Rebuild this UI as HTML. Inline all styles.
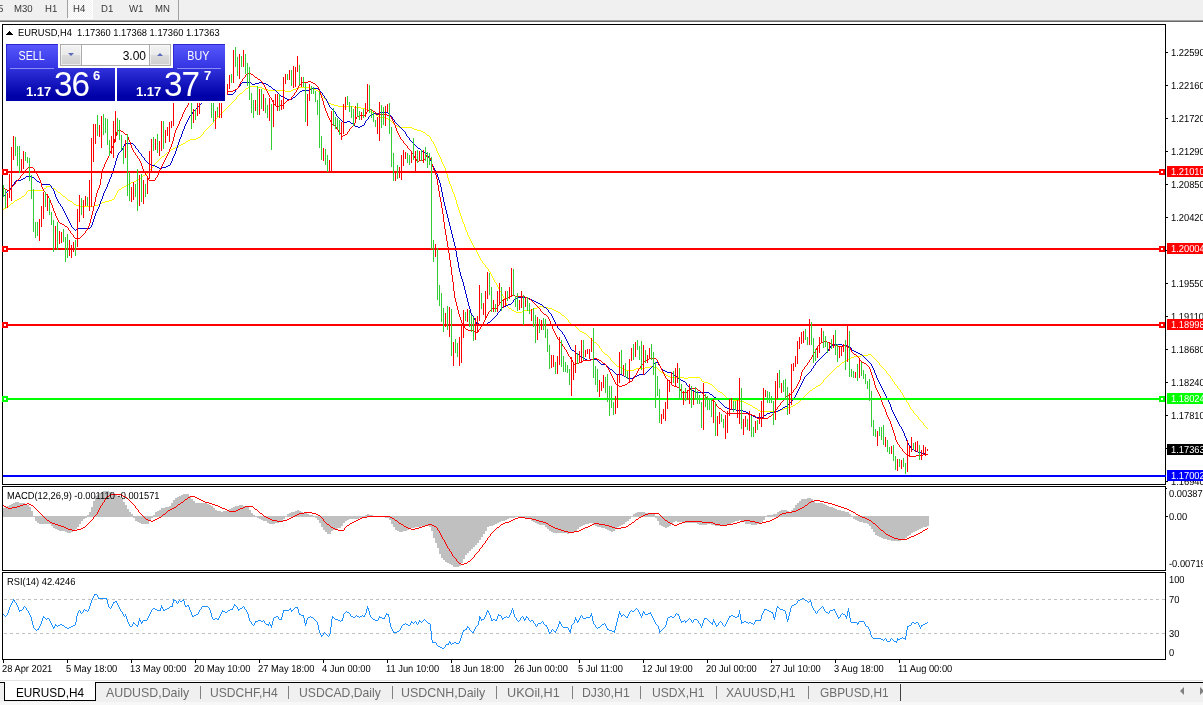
<!DOCTYPE html>
<html lang="en">
<head>
<meta charset="utf-8">
<title>EURUSD,H4</title>
<style>
html,body{margin:0;padding:0;background:#fff;overflow:hidden}
body{width:1203px;height:705px;position:relative;font-family:"Liberation Sans",Arial,sans-serif;}
#app{position:absolute;left:0;top:0;width:1203px;height:705px;overflow:hidden;background:#fff}
.toolbar{position:absolute;left:0;top:0;width:1203px;height:20px;background:#f0f0f0;border-bottom:1px solid #a0a0a0;font-size:10.2px;color:#383838;text-rendering:geometricPrecision}
.toolbar:after{content:"";position:absolute;left:0;top:21px;width:1203px;height:1px;background:#696969}
.toolbar span{position:absolute;top:4px;line-height:12px;white-space:nowrap;transform:scaleX(.94);transform-origin:0 0}
.toolbar .vs{position:absolute;top:0;width:1px;height:18px;background:#a0a0a0}
.toolbar .on{position:absolute;left:68px;top:0;width:24px;height:18px;background:#f0f0f0 conic-gradient(#fff 25%,transparent 0 50%,#fff 0 75%,transparent 0) 0 0/2px 2px;box-shadow:1px 0 0 #fff,0 1px 0 #fff,1px 1px 0 #fff}
.chart{position:absolute;left:0;top:0}
.panel{position:absolute;left:6px;top:44px;width:219px;height:57px;box-shadow:0 0 0 2px #fff;background:#fff;font-family:"Liberation Sans",Arial,sans-serif;color:#fff}
.btn{position:absolute;top:0;height:25px;width:52px;background:linear-gradient(#5858fc,#3232e2);text-align:center;font-size:12px;line-height:24px;box-shadow:inset 1px 1px 0 #2a2ad0}
.btn span{display:inline-block;transform:scaleX(.89)}
.btn u{position:absolute;left:4px;right:4px;bottom:0;height:1px;background:#8c8cf4}
.px{position:absolute;top:24px;height:33px;background:linear-gradient(#3232dc,#0000a8 85%);}
.px b{position:absolute;left:20px;top:16px;font-size:13px;line-height:15px}
.px em{position:absolute;left:47.5px;top:0px;font-style:normal;font-size:35px;line-height:32px;letter-spacing:-1px;transform:scaleX(.95);transform-origin:0 0}
.px sup{position:absolute;left:87px;top:0px;font-size:13px;font-weight:bold;line-height:15px}
.vol{position:absolute;left:54px;top:0;width:109px;height:20px;border:1px solid #ababab;background:#fff;color:#000;font-size:12px}
.vol i{position:absolute;top:0;width:20px;height:20px;background:linear-gradient(#f3f3f3,#eaeaea 48%,#dcdcdc 52%,#cfcfcf);border:0 solid #ababab;box-shadow:inset 0 0 0 1px rgba(255,255,255,.55)}
.vol i:after{content:"";position:absolute;left:7px;top:8px;border:3px solid transparent;}
.vol i.dn{left:0;border-right-width:1px} .vol i.dn:after{border-top:3px solid #5a6ab8;border-bottom:0}
.vol i.up{right:0;border-left-width:1px} .vol i.up:after{border-bottom:3px solid #5a6ab8;border-top:0}
.vol span{position:absolute;right:24px;top:4px;line-height:15px}
.tabs{position:absolute;left:0;top:680px;width:1203px;height:25px;font-size:12px}
.tabs .bg{position:absolute;left:0;top:3px;width:1203px;height:19px;background:#f0f0f0}
.tabs .l1{position:absolute;left:0;top:0;width:1203px;height:1px;background:#e3e3e3}
.tabs .l2{position:absolute;left:0;top:2px;width:1203px;height:1px;background:#000}
.tabs .bot{position:absolute;left:0;top:22px;width:1203px;height:3px;background:#f7f7f7}
.tabs .act{position:absolute;left:4px;top:2px;width:90px;height:18px;border:1px solid #000;border-top:0;background:#fff;color:#000}
.tabs .act span{position:absolute;left:11px;top:3px;line-height:15px;font-size:13px;transform:scaleX(.905);transform-origin:0 0;white-space:nowrap}
.tab{position:absolute;top:5px;line-height:15px;color:#6d6d6d;white-space:nowrap;font-size:13px;transform:scaleX(.91);transform-origin:0 0}
.sep{position:absolute;top:6px;width:1px;height:13px;background:#808080}
.arr{position:absolute;top:7px;width:0;height:0;border:4px solid transparent}
</style>
</head>
<body>
<div id="app">
<div class="toolbar"><span style="left:-2px">5</span><span style="left:14.3px">M30</span><span style="left:45.3px">H1</span><i class="on"></i><i class="vs" style="left:67px"></i><span style="left:72.5px">H4</span><span style="left:101px">D1</span><span style="left:129px">W1</span><span style="left:155px">MN</span><i class="vs" style="left:178px;height:20px"></i></div>
<svg class="chart" width="1203" height="705" viewBox="0 0 1203 705"><g shape-rendering="crispEdges"><path d="M3 209.5h1M4 208.5h2M6 207.5h2M8 206.5h1M9 205.5h1M10 204.5h1M11 203.5h2M13 202.5h1M14 201.5h1M15 200.5h2M17 199.5h2M19 198.5h2M21 197.5h1M22 196.5h2M24 195.5h1M25 194.5h1M26.5 192v2M27 191.5h1M28 190.5h15M43 189.5h1M44 188.5h2M46.5 186v2M47 186.5h4M51 187.5h1M52 188.5h3M55 189.5h1M56 190.5h1M57 191.5h1M58 192.5h2M60 193.5h1M61 194.5h1M62 195.5h1M63 196.5h2M65 197.5h1M66 198.5h1M67 199.5h1M68 200.5h2M70 201.5h2M72 202.5h1M73 203.5h1M74 204.5h2M76 205.5h3M79 206.5h15M94 205.5h4M98 204.5h2M100 203.5h2M102 202.5h3M105 201.5h4M109 200.5h3M112 199.5h2M114.5 197v2M115.5 195v2M116.5 193v2M117.5 191v2M118 190.5h1M119 189.5h2M121 188.5h1M122 187.5h2M124 186.5h2M126 185.5h1M127 184.5h2M129 183.5h2M131 182.5h3M134 181.5h2M136 180.5h2M138 179.5h1M139 178.5h2M141 177.5h1M142 176.5h1M143 175.5h2M145 174.5h2M147 173.5h1M148 172.5h1M149.5 170v2M150 169.5h1M151 168.5h1M152 167.5h1M153.5 165v2M154 164.5h1M155 163.5h1M156 162.5h1M157 161.5h1M158 160.5h1M159 159.5h1M160 158.5h1M161 157.5h1M162 156.5h2M164 155.5h1M165 154.5h1M166 153.5h1M167 152.5h2M169 151.5h1M170 150.5h1M171 149.5h2M173 148.5h2M175 147.5h2M177 146.5h2M179 145.5h2M181 144.5h2M183 143.5h2M185 142.5h1M186 141.5h2M188 140.5h2M190 139.5h6M196 138.5h2M198 137.5h2M200 136.5h1M201 135.5h1M202 134.5h1M203.5 132v2M204 131.5h1M205 130.5h1M206 129.5h1M207 128.5h1M208 127.5h1M209 126.5h1M210 125.5h1M211 124.5h1M212 123.5h1M213.5 121v2M214 120.5h1M215 119.5h1M216 118.5h1M217 117.5h1M218 116.5h1M219 115.5h1M220 114.5h1M221 113.5h1M222 112.5h1M223 111.5h1M224 110.5h1M225 109.5h1M226 108.5h1M227 107.5h1M228 106.5h1M229 105.5h1M230 104.5h1M231 103.5h1M232 102.5h1M233 101.5h1M234 100.5h1M235 99.5h1M236.5 97v2M237 96.5h1M238 95.5h1M239 94.5h1M240 93.5h2M242 92.5h1M243 91.5h1M244 90.5h1M245 89.5h1M246 88.5h2M248 87.5h1M249 86.5h8M257 87.5h5M262 88.5h2M264 89.5h4M268 90.5h17M285 91.5h6M291 90.5h2M293 89.5h3M296 88.5h3M299 87.5h11M310 88.5h3M313 89.5h3M316 90.5h2M318 91.5h2M320.5 92v2M321.5 94v2M322 96.5h1M323 97.5h1M324 98.5h1M325 99.5h1M326 100.5h1M327 101.5h1M328 102.5h1M329 103.5h2M331 104.5h3M334 105.5h4M338 106.5h16M354 107.5h7M361 108.5h5M366 109.5h2M368 110.5h2M370 111.5h2M372 112.5h1M373 113.5h2M375 114.5h1M376 115.5h2M378 116.5h2M380 117.5h6M386 118.5h2M388 119.5h2M390 120.5h1M391 121.5h1M392 122.5h1M393 123.5h1M394 124.5h1M395 125.5h2M397 126.5h2M399 127.5h13M412 128.5h2M414 129.5h3M417 130.5h4M421 131.5h2M423 132.5h2M425 133.5h1M426 134.5h1M427 135.5h2M429 136.5h1M430.5 137v2M431.5 139v2M432 141.5h1M433.5 142v2M434.5 144v2M435.5 146v2M436.5 148v3M437.5 151v2M438.5 153v2M439.5 155v2M440.5 157v2M441.5 159v3M442.5 162v2M443.5 164v2M444.5 166v2M445.5 168v3M446.5 171v3M447.5 174v4M448.5 178v3M449.5 181v3M450.5 184v2M451.5 186v3M452.5 189v3M453.5 192v2M454.5 194v3M455.5 197v3M456.5 200v4M457.5 204v3M458.5 207v3M459.5 210v3M460.5 213v3M461.5 216v3M462.5 219v3M463.5 222v2M464.5 224v3M465.5 227v3M466.5 230v2M467.5 232v3M468.5 235v2M469.5 237v2M470.5 239v2M471.5 241v2M472.5 243v2M473.5 245v2M474.5 247v2M475 249.5h1M476.5 250v2M477.5 252v2M478.5 254v2M479.5 256v2M480.5 258v2M481 260.5h1M482.5 261v2M483 263.5h1M484 264.5h1M485.5 265v2M486 267.5h1M487 268.5h1M488.5 269v2M489 271.5h1M490.5 272v2M491.5 274v2M492.5 276v2M493.5 278v2M494.5 280v2M495 282.5h1M496.5 283v2M497.5 285v2M498.5 287v2M499.5 289v2M500 291.5h1M501.5 292v2M502.5 294v2M503.5 296v2M504.5 298v2M505.5 300v3M506.5 303v2M507.5 305v2M508 307.5h1M509 308.5h2M511 309.5h1M512 310.5h2M514 311.5h2M516 312.5h6M522 311.5h2M524 310.5h8M532 309.5h2M534 308.5h3M537 307.5h2M539 306.5h4M543 307.5h5M548 308.5h4M552 309.5h2M554 310.5h2M556 311.5h2M558 312.5h2M560 313.5h1M561 314.5h1M562 315.5h2M564 316.5h1M565 317.5h1M566 318.5h1M567 319.5h1M568.5 320v2M569 322.5h1M570 323.5h1M571 324.5h2M573 325.5h2M575 326.5h1M576 327.5h1M577 328.5h1M578 329.5h1M579 330.5h1M580 331.5h2M582 332.5h2M584 333.5h2M586 334.5h1M587 335.5h1M588 336.5h1M589 337.5h1M590 338.5h1M591 339.5h1M592 340.5h1M593 341.5h1M594 342.5h2M596 343.5h1M597 344.5h1M598 345.5h1M599.5 346v2M600 348.5h1M601.5 349v2M602 351.5h1M603 352.5h1M604 353.5h1M605 354.5h2M607 355.5h1M608 356.5h1M609 357.5h1M610.5 358v2M611 360.5h1M612 361.5h1M613 362.5h1M614 363.5h1M615 364.5h1M616 365.5h1M617 366.5h2M619 367.5h2M621 368.5h3M624 369.5h2M626 370.5h8M634 369.5h2M636 368.5h9M645 367.5h5M650 366.5h4M654 367.5h3M657 368.5h1M658 369.5h1M659 370.5h1M660 371.5h1M661 372.5h2M663 373.5h2M665 374.5h1M666 375.5h2M668 376.5h2M670 377.5h14M684 378.5h4M688 377.5h12M700 378.5h1M701.5 379v2M702 381.5h2M704 382.5h4M708 383.5h2M710 384.5h2M712 385.5h1M713 386.5h1M714 387.5h1M715 388.5h1M716 389.5h1M717 390.5h1M718 391.5h2M720 392.5h2M722 393.5h1M723 394.5h1M724 395.5h1M725 396.5h1M726 397.5h1M727 398.5h2M729 399.5h4M733 400.5h6M739 401.5h5M744 402.5h2M746 403.5h2M748 404.5h2M750 405.5h2M752 406.5h1M753 407.5h2M755 408.5h2M757 409.5h1M758 410.5h2M760 411.5h19M779 410.5h2M781 409.5h3M784 408.5h4M788 407.5h3M791 406.5h2M793 405.5h2M795 404.5h1M796 403.5h2M798 402.5h1M799 401.5h1M800 400.5h1M801 399.5h1M802 398.5h1M803 397.5h1M804 396.5h1M805 395.5h1M806 394.5h1M807 393.5h1M808 392.5h1M809 391.5h1M810 390.5h2M812 389.5h1M813 388.5h2M815 387.5h1M816 386.5h2M818 385.5h2M820 384.5h1M821 383.5h1M822 382.5h1M823.5 380v2M824 379.5h1M825 378.5h1M826 377.5h1M827 376.5h1M828 375.5h1M829 374.5h1M830 373.5h1M831 372.5h1M832 371.5h1M833 370.5h1M834 369.5h1M835 368.5h1M836 367.5h1M837 366.5h2M839 365.5h1M840 364.5h1M841 363.5h1M842 362.5h2M844 361.5h2M846 360.5h1M847 359.5h2M849 358.5h2M851 357.5h3M854 356.5h7M861 355.5h7M868 354.5h3M871 355.5h1M872 356.5h1M873 357.5h1M874 358.5h1M875 359.5h1M876 360.5h1M877 361.5h1M878 362.5h1M879.5 363v2M880 365.5h1M881 366.5h1M882 367.5h1M883 368.5h1M884 369.5h1M885 370.5h1M886.5 371v2M887 373.5h1M888 374.5h1M889 375.5h1M890.5 376v2M891 378.5h1M892.5 379v2M893 381.5h1M894.5 382v2M895 384.5h1M896 385.5h1M897.5 386v2M898 388.5h1M899 389.5h1M900.5 390v2M901 392.5h1M902.5 393v2M903.5 395v2M904 397.5h1M905.5 398v2M906.5 400v2M907 402.5h1M908.5 403v2M909.5 405v2M910.5 407v2M911 409.5h1M912 410.5h1M913.5 411v2M914 413.5h1M915 414.5h1M916 415.5h1M917 416.5h1M918.5 417v2M919 419.5h1M920 420.5h1M921 421.5h1M922 422.5h1M923.5 423v2M924 425.5h1M925 426.5h1M926 427.5h1M927 428.5h1" fill="none" stroke="#ffff00"/><path d="M3 196.5h1M4 195.5h1M5.5 193v2M6 192.5h1M7 191.5h1M8 190.5h1M9 189.5h1M10 188.5h1M11.5 186v2M12 185.5h1M13 184.5h1M14.5 182v2M15 181.5h1M16 180.5h5M21 179.5h2M23 178.5h2M25 177.5h1M26 176.5h6M32 177.5h2M34 178.5h1M35 179.5h1M36 180.5h1M37 181.5h2M39 182.5h2M41.5 183v2M42 184.5h8M50 185.5h1M51.5 186v2M52 188.5h1M53.5 189v2M54.5 191v3M55.5 194v3M56.5 197v2M57.5 199v2M58.5 201v2M59 203.5h1M60.5 204v2M61 206.5h1M62.5 207v2M63.5 209v2M64.5 211v2M65.5 213v2M66.5 215v2M67.5 217v2M68.5 219v2M69.5 221v2M70.5 223v2M71.5 225v2M72 227.5h1M73 228.5h1M74 229.5h1M75 230.5h1M76 229.5h2M78 228.5h12M90 227.5h1M91.5 225v2M92.5 222v3M93.5 219v3M94.5 216v3M95.5 213v3M96.5 211v2M97.5 209v2M98.5 207v2M99.5 204v3M100.5 201v3M101.5 199v2M102.5 196v3M103.5 193v3M104.5 191v2M105.5 189v2M106.5 187v2M107.5 184v3M108.5 182v2M109.5 179v3M110.5 177v2M111.5 174v3M112.5 171v3M113.5 168v3M114.5 165v3M115.5 161v4M116.5 158v3M117.5 155v3M118.5 153v2M119 152.5h1M120 151.5h1M121 150.5h1M122.5 148v2M123.5 146v2M124.5 144v2M125 143.5h8M133 144.5h1M134 145.5h1M135.5 146v2M136 148.5h1M137 149.5h1M138.5 150v2M139 152.5h1M140 153.5h1M141.5 154v2M142 156.5h1M143 157.5h1M144.5 158v2M145 160.5h1M146 161.5h1M147 162.5h1M148 163.5h1M149 164.5h3M152 165.5h3M155 166.5h2M157 167.5h2M159 168.5h3M162 167.5h4M166 166.5h2M168 165.5h2M170.5 163v2M171.5 161v2M172.5 158v3M173.5 156v2M174.5 154v2M175.5 151v3M176.5 148v3M177.5 145v3M178.5 142v3M179.5 139v3M180.5 137v2M181.5 134v3M182.5 131v3M183.5 129v2M184.5 126v3M185.5 124v2M186.5 122v2M187.5 120v2M188.5 118v2M189.5 116v2M190 115.5h1M191 114.5h1M192.5 112v2M193 111.5h1M194 110.5h1M195 109.5h1M196 108.5h1M197 107.5h1M198 106.5h1M199 105.5h1M200 104.5h1M201 103.5h1M202 102.5h1M203 101.5h1M204 100.5h1M227 94.5h6M233 93.5h1M234 92.5h1M235.5 90v2M236 89.5h1M237 88.5h1M238 87.5h1M239 86.5h1M240.5 84v2M241 83.5h1M242 82.5h9M251 83.5h1M252 84.5h3M255 83.5h4M259 82.5h4M263 83.5h3M266 84.5h2M268 85.5h1M269 86.5h2M271 87.5h1M272 88.5h1M273 89.5h2M275 90.5h1M276 91.5h1M277 92.5h1M278 93.5h1M279 94.5h1M280 95.5h1M281 96.5h2M283 97.5h2M285 98.5h2M287 99.5h5M292 98.5h1M293 97.5h2M295 96.5h1M296 95.5h1M297 94.5h1M298 93.5h1M299 92.5h1M300 91.5h2M302 90.5h7M309 89.5h2M311 88.5h7M318 89.5h1M319 90.5h1M320 91.5h1M321 92.5h1M322.5 93v2M323 95.5h1M324.5 96v2M325 98.5h1M326.5 99v2M327.5 101v2M328.5 103v2M329.5 105v2M330 107.5h1M331 108.5h1M332 109.5h1M333 110.5h1M334 111.5h1M335.5 112v2M336.5 114v2M337 116.5h1M338 117.5h1M339 118.5h1M340 119.5h1M341 120.5h1M342 121.5h2M344 122.5h3M347 121.5h3M350 122.5h1M351 123.5h2M353 124.5h1M354 125.5h1M355 126.5h3M358 127.5h2M360 126.5h2M362 125.5h2M364.5 123v2M365.5 121v2M366 120.5h1M367 119.5h1M368.5 117v2M369 116.5h1M370 115.5h1M371 114.5h2M373 113.5h3M376 114.5h2M378 113.5h2M380 112.5h8M388 113.5h1M389 114.5h1M390 115.5h1M391 116.5h1M392.5 117v2M393 119.5h1M394.5 120v2M395 122.5h1M396 123.5h1M397 124.5h1M398 125.5h1M399 126.5h1M400 127.5h1M401 128.5h1M402 129.5h1M403 130.5h1M404 131.5h1M405.5 132v2M406.5 134v2M407 136.5h1M408 137.5h1M409.5 138v2M410 140.5h1M411 141.5h1M412 142.5h1M413 143.5h1M414 144.5h1M415 145.5h1M416 146.5h1M417 147.5h1M418 148.5h2M420 149.5h1M421 150.5h1M422 151.5h2M424 152.5h2M426 153.5h1M427.5 154v2M428 156.5h1M429.5 157v2M430.5 159v2M431.5 161v3M432.5 164v2M433.5 166v2M434.5 168v2M435.5 170v2M436.5 172v2M437.5 174v3M438.5 177v3M439.5 180v3M440.5 183v4M441.5 187v5M442.5 192v5M443.5 197v5M444.5 202v4M445.5 206v4M446.5 210v4M447.5 214v4M448.5 218v4M449.5 222v4M450.5 226v4M451.5 230v4M452.5 234v4M453.5 238v4M454.5 242v4M455.5 246v5M456.5 251v6M457.5 257v5M458.5 262v6M459.5 268v4M460.5 272v4M461.5 276v3M462.5 279v3M463.5 282v4M464.5 286v4M465.5 290v4M466.5 294v4M467.5 298v4M468.5 302v4M469.5 306v3M470.5 309v4M471.5 313v2M472 315.5h1M473.5 316v2M474.5 318v2M475.5 320v2M476.5 322v2M477 323.5h2M479 324.5h8M487 323.5h1M488 322.5h2M490 321.5h1M491 320.5h1M492 319.5h1M493 318.5h1M494 317.5h1M495 316.5h1M496 315.5h1M497.5 313v2M498 312.5h1M499 311.5h1M500.5 309v2M501 308.5h1M502 307.5h2M504 306.5h2M506 305.5h2M508 304.5h3M511 303.5h1M512 302.5h1M513.5 300v2M514 299.5h1M515 298.5h3M518 297.5h10M528 298.5h2M530 299.5h2M532 300.5h2M534 301.5h2M536 302.5h2M538 303.5h2M540 304.5h2M542 305.5h1M543 306.5h1M544 307.5h2M546 308.5h1M547 309.5h1M548.5 310v2M549 312.5h1M550 313.5h1M551.5 314v2M552.5 316v2M553.5 318v2M554.5 320v2M555.5 322v2M556.5 324v2M557.5 326v2M558 328.5h1M559 329.5h1M560 330.5h1M561 331.5h1M562.5 332v2M563 334.5h1M564.5 335v2M565.5 337v2M566.5 339v2M567.5 341v2M568.5 343v2M569.5 345v2M570.5 347v2M571 349.5h1M572 350.5h2M574 351.5h1M575 352.5h1M576 353.5h1M577 354.5h2M579 355.5h1M580 356.5h1M581 357.5h2M583 358.5h2M585 359.5h2M587 360.5h3M590 359.5h7M597 360.5h1M598 361.5h1M599 362.5h1M600 363.5h1M601 364.5h5M606 365.5h1M607 366.5h1M608 367.5h1M609 368.5h1M610 369.5h2M612 370.5h1M613 371.5h1M614 372.5h1M615 373.5h1M616 374.5h6M622 375.5h2M624 376.5h2M626 377.5h2M628 378.5h5M633 377.5h2M635 376.5h2M637 375.5h2M639 374.5h6M645 373.5h1M646 372.5h1M647 371.5h1M648 370.5h1M649 369.5h1M650 368.5h1M651 367.5h1M652 366.5h1M653.5 364v2M654 363.5h2M656 362.5h2M658.5 363v2M659 365.5h1M660.5 366v2M661 368.5h1M662 369.5h1M663 370.5h2M665 371.5h2M667 372.5h4M671 373.5h2M673 374.5h1M674 375.5h2M676 376.5h1M677 377.5h1M678 378.5h2M680 379.5h1M681 380.5h2M683 381.5h2M685 382.5h1M686.5 383v2M687 385.5h1M688 386.5h1M689 387.5h1M690 388.5h1M691 389.5h1M692 390.5h2M694 391.5h2M696 392.5h13M709 393.5h1M710 394.5h2M712 395.5h1M713 396.5h1M714 397.5h2M716 398.5h1M717 399.5h1M718 400.5h1M719 401.5h1M720 402.5h1M721 403.5h1M722 404.5h1M723 405.5h1M724 406.5h1M725 407.5h2M727 408.5h3M730 409.5h6M736 410.5h7M743 411.5h3M746 412.5h2M748 413.5h2M750 414.5h1M751 415.5h2M753 416.5h2M755 417.5h8M763 416.5h1M764 415.5h2M766 414.5h1M767 413.5h3M770 412.5h5M775 411.5h3M778 410.5h2M780 409.5h2M782 408.5h1M783 407.5h2M785 406.5h2M787 405.5h1M788 404.5h1M789 403.5h1M790 402.5h1M791 401.5h1M792.5 399v2M793 398.5h1M794 397.5h1M795.5 395v2M796.5 393v2M797.5 391v2M798.5 389v2M799.5 387v2M800.5 385v2M801.5 383v2M802.5 381v2M803.5 379v2M804.5 377v2M805 376.5h1M806 375.5h1M807 374.5h1M808 373.5h1M809 372.5h1M810 371.5h1M811.5 369v2M812 368.5h1M813.5 366v2M814 365.5h1M815.5 363v2M816 362.5h1M817 361.5h1M818 360.5h1M819 359.5h1M820 358.5h1M821 357.5h1M822 356.5h1M823 355.5h1M824 354.5h1M825 353.5h1M826 352.5h1M827 351.5h1M828.5 349v2M829 348.5h1M830.5 346v2M831 345.5h2M833 344.5h9M842 345.5h5M847 346.5h3M850 347.5h1M851.5 348v2M852 350.5h2M854 351.5h2M856 352.5h2M858 353.5h2M860 354.5h2M862 355.5h1M863 356.5h1M864 357.5h1M865 358.5h1M866 359.5h1M867 360.5h1M868 361.5h1M869 362.5h1M870 363.5h1M871.5 364v2M872.5 366v2M873.5 368v2M874.5 370v3M875.5 373v2M876.5 375v3M877.5 378v2M878.5 380v2M879.5 382v2M880.5 384v2M881.5 386v2M882.5 388v2M883.5 390v2M884.5 392v2M885.5 394v2M886.5 396v2M887.5 398v2M888.5 400v2M889.5 402v2M890.5 404v3M891.5 407v3M892.5 410v2M893.5 412v2M894.5 414v2M895.5 416v2M896.5 418v2M897.5 420v2M898.5 422v2M899.5 424v2M900 426.5h1M901.5 427v2M902.5 429v2M903.5 431v2M904.5 433v3M905.5 436v2M906.5 438v3M907.5 441v2M908.5 443v2M909 445.5h1M910.5 446v2M911 448.5h1M912 449.5h2M914 450.5h2M916 451.5h2M918 452.5h3M921 453.5h4M925 454.5h3" fill="none" stroke="#0000cd"/><path d="M3 187.5h1M4 188.5h1M5 189.5h2M7 190.5h2M9 189.5h2M11.5 187v2M12 186.5h1M13 185.5h1M14 184.5h1M15.5 182v2M16 181.5h1M17 180.5h1M18 179.5h1M19 178.5h1M20.5 176v2M21 175.5h1M22 174.5h1M23 173.5h1M24 172.5h1M25.5 170v2M26 169.5h1M27 168.5h1M28 167.5h5M33 168.5h1M34.5 169v2M35 171.5h1M36.5 172v2M37.5 174v2M38.5 176v2M39.5 178v2M40.5 180v3M41.5 183v4M42.5 187v2M43.5 189v2M44 191.5h1M45.5 192v2M46 194.5h1M47 195.5h1M48.5 196v2M49.5 198v2M50.5 200v3M51.5 203v2M52.5 205v3M53.5 208v3M54.5 211v2M55.5 213v3M56.5 216v2M57.5 218v2M58.5 220v2M59 222.5h1M60 223.5h2M62 224.5h2M64 225.5h1M65 226.5h2M67 227.5h1M68.5 228v2M69 230.5h1M70.5 231v2M71 233.5h1M72 234.5h1M73.5 235v2M74 237.5h1M75 238.5h5M80 237.5h1M81 236.5h1M82 235.5h1M83 234.5h1M84 233.5h1M85.5 231v2M86 230.5h1M87.5 228v2M88.5 226v2M89.5 223v3M90.5 219v4M91.5 215v4M92.5 211v4M93.5 206v5M94.5 202v4M95.5 197v5M96.5 193v4M97.5 190v3M98.5 188v2M99.5 185v3M100.5 179v6M101.5 173v6M102.5 169v4M103.5 167v2M104.5 164v3M105.5 162v2M106.5 160v2M107.5 158v2M108.5 156v2M109.5 153v3M110.5 151v2M111.5 148v3M112.5 146v2M113.5 143v3M114.5 139v4M115.5 136v3M116.5 132v4M117.5 130v2M118 130.5h3M121 131.5h2M123 132.5h1M124 133.5h1M125 134.5h2M127.5 135v2M128.5 137v3M129.5 140v2M130.5 142v3M131.5 145v3M132.5 148v2M133.5 150v2M134 152.5h1M135.5 153v2M136 155.5h1M137.5 156v2M138 158.5h1M139.5 159v2M140.5 161v2M141.5 163v3M142.5 166v3M143.5 169v2M144.5 171v2M145.5 173v2M146 175.5h1M147.5 176v2M148.5 178v2M149 180.5h6M155.5 178v2M156 177.5h1M157.5 175v2M158.5 173v2M159.5 170v3M160.5 168v2M161.5 166v2M162.5 164v2M163.5 162v2M164.5 160v2M165.5 158v2M166.5 156v2M167.5 154v2M168.5 152v2M169.5 149v3M170.5 147v2M171.5 144v3M172.5 141v3M173.5 137v4M174.5 133v4M175.5 130v3M176.5 128v2M177.5 126v2M178.5 124v2M179.5 121v3M180.5 119v2M181.5 117v2M182.5 114v3M183.5 112v2M184.5 110v2M185.5 108v2M186 107.5h1M187.5 105v2M188.5 103v2M189.5 101v2M190.5 99v2M227 91.5h6M233 90.5h2M235 89.5h2M237 88.5h1M238.5 86v2M239.5 84v2M240.5 82v2M241 81.5h1M242.5 79v2M243 78.5h1M244 77.5h1M245.5 75v2M246 74.5h1M247 73.5h2M249 72.5h1M250 73.5h1M251 74.5h2M253 75.5h1M254 76.5h1M255 77.5h2M257 78.5h1M258 79.5h2M260 80.5h1M261 81.5h1M262.5 82v2M263 84.5h1M264.5 85v2M265.5 87v2M266.5 89v2M267.5 91v2M268.5 93v2M269.5 95v2M270 97.5h1M271.5 98v2M272.5 100v2M273.5 102v2M274 104.5h1M275 105.5h1M276 106.5h3M279 105.5h4M283 104.5h1M284 103.5h1M285 102.5h1M286 101.5h1M287 100.5h2M289 99.5h2M291.5 97v2M292 96.5h1M293 95.5h1M294.5 93v2M295 92.5h1M296.5 90v2M297.5 88v2M298.5 86v2M299 85.5h1M300 84.5h1M301 83.5h1M302 82.5h6M308 81.5h3M311 82.5h2M313 83.5h2M315 84.5h1M316 85.5h1M317 86.5h1M318.5 87v2M319.5 89v3M320.5 92v3M321.5 95v3M322.5 98v3M323.5 101v4M324.5 105v3M325.5 108v3M326.5 111v2M327.5 113v3M328.5 116v2M329.5 118v2M330.5 120v2M331.5 122v2M332 124.5h1M333 125.5h2M335 126.5h1M336.5 127v2M337 129.5h1M338.5 130v2M339 132.5h1M340 133.5h1M341.5 134v2M342 136.5h1M343 135.5h2M345 134.5h2M347.5 132v2M348 131.5h1M349.5 129v2M350 128.5h1M351 127.5h1M352 126.5h1M353 125.5h1M354.5 123v2M355.5 119v4M356.5 117v2M357 116.5h2M359 115.5h6M365.5 114v2M366.5 112v2M367.5 110v2M368 110.5h1M369 109.5h3M372 110.5h1M373 111.5h2M375 112.5h1M376 113.5h2M378 114.5h9M387 115.5h2M389 116.5h2M391.5 117v2M392.5 119v2M393.5 121v2M394.5 123v2M395.5 125v3M396.5 128v3M397.5 131v2M398.5 133v2M399.5 135v2M400.5 137v2M401 139.5h1M402 140.5h1M403.5 141v2M404 143.5h1M405 144.5h1M406 145.5h1M407.5 146v2M408 148.5h1M409 149.5h1M410 150.5h1M411.5 151v2M412 153.5h1M413.5 154v2M414.5 156v2M415 158.5h1M416.5 159v2M417 161.5h2M419 160.5h4M423 159.5h2M425.5 157v2M426.5 155v2M427 156.5h1M428 157.5h2M430.5 158v2M431.5 160v4M432.5 164v3M433.5 167v3M434.5 170v2M435.5 172v3M436.5 175v4M437.5 179v6M438.5 185v6M439.5 191v6M440.5 197v5M441.5 202v6M442.5 208v6M443.5 214v8M444.5 222v7M445.5 229v6M446.5 235v6M447.5 241v6M448.5 247v6M449.5 253v7M450.5 260v7M451.5 267v8M452.5 275v7M453.5 282v9M454.5 291v7M455.5 298v4M456.5 302v4M457.5 306v4M458.5 310v4M459.5 314v3M460.5 317v3M461.5 320v3M462.5 323v2M463 325.5h1M464.5 326v2M465 328.5h1M466 329.5h2M468 330.5h6M474 331.5h2M476 332.5h2M478.5 330v2M479 329.5h1M480.5 327v2M481 326.5h1M482.5 324v2M483.5 322v2M484.5 320v2M485.5 318v2M486.5 316v2M487.5 314v2M488.5 312v2M489 311.5h1M490 310.5h1M491 309.5h1M492 308.5h5M497.5 306v2M498 305.5h1M499.5 303v2M500 302.5h1M501 301.5h1M502 300.5h2M504 299.5h1M505 298.5h2M507 297.5h2M509 296.5h2M511 295.5h4M515 296.5h10M525 297.5h3M528 298.5h1M529 299.5h2M531 300.5h1M532 301.5h1M533 302.5h1M534 303.5h1M535 304.5h1M536 305.5h1M537 306.5h1M538 307.5h1M539 308.5h1M540.5 309v2M541 311.5h1M542 312.5h1M543 313.5h1M544 314.5h2M546 315.5h1M547 316.5h1M548.5 317v2M549.5 319v2M550.5 321v3M551.5 324v2M552.5 326v3M553.5 329v2M554.5 331v2M555.5 333v2M556.5 335v2M557.5 337v2M558 339.5h1M559.5 340v2M560 342.5h1M561 343.5h1M562.5 344v2M563 346.5h1M564.5 347v2M565 349.5h1M566.5 350v2M567.5 352v2M568.5 354v2M569 356.5h1M570.5 357v2M571 359.5h1M572.5 360v2M573.5 362v2M574 364.5h2M576 363.5h3M579 362.5h2M581 361.5h2M583 360.5h8M591 359.5h3M594 358.5h3M597 359.5h2M599 360.5h2M601 361.5h1M602 362.5h1M603 363.5h2M605 364.5h1M606.5 365v2M607 367.5h1M608.5 368v2M609.5 370v2M610.5 372v2M611.5 374v2M612.5 376v2M613.5 378v2M614.5 380v2M615.5 382v2M616 384.5h1M617 385.5h2M619 386.5h3M622 385.5h3M625 384.5h2M627 383.5h1M628 382.5h2M630 381.5h2M632.5 379v2M633 378.5h1M634.5 376v2M635 375.5h1M636.5 373v2M637.5 371v2M638.5 369v2M639 368.5h1M640.5 366v2M641 365.5h1M642 364.5h1M643.5 362v2M644 361.5h1M645 360.5h2M647 359.5h2M649 358.5h7M656 359.5h1M657.5 360v2M658.5 362v2M659.5 364v2M660.5 366v2M661.5 368v2M662.5 370v2M663.5 372v2M664.5 374v2M665.5 376v2M666 378.5h1M667 379.5h1M668 380.5h1M669 381.5h1M670 382.5h1M671.5 383v2M672 385.5h2M674 386.5h3M677 387.5h2M679 388.5h1M680.5 389v2M681 391.5h1M682 392.5h5M687 391.5h1M688 390.5h2M690 389.5h1M691 388.5h6M697 389.5h1M698 390.5h2M700 391.5h1M701 392.5h1M702 393.5h1M703 394.5h1M704 395.5h1M705 396.5h1M706 397.5h1M707 398.5h2M709 399.5h2M711 400.5h2M713 401.5h2M715.5 402v2M716.5 404v2M717 406.5h1M718 407.5h1M719 408.5h2M721 409.5h1M722 410.5h1M723 411.5h2M725 412.5h1M726 413.5h22M748 414.5h4M752 415.5h3M755 416.5h1M756 417.5h1M757 418.5h11M768 417.5h1M769 416.5h2M771 415.5h1M772 414.5h1M773 413.5h1M774.5 411v2M775 410.5h1M776 409.5h1M777.5 407v2M778 406.5h1M779 405.5h1M780.5 403v2M781 402.5h1M782 401.5h1M783.5 399v2M784 398.5h1M785 397.5h1M786 396.5h2M788 395.5h2M790 394.5h1M791 393.5h1M792 392.5h1M793.5 390v2M794 389.5h1M795 388.5h1M796.5 386v2M797.5 384v2M798.5 382v2M799.5 380v2M800.5 376v4M801.5 372v4M802.5 370v2M803 369.5h1M804.5 367v2M805 366.5h1M806 365.5h1M807.5 363v2M808 362.5h1M809.5 360v2M810 359.5h1M811.5 357v2M812.5 355v2M813.5 353v2M814 352.5h1M815.5 350v2M816.5 348v2M817.5 346v2M818 345.5h1M819 344.5h1M820 343.5h1M821 342.5h2M823 341.5h4M827 342.5h2M829 343.5h3M832 344.5h2M834 345.5h4M838 346.5h5M843 345.5h3M846 346.5h2M848 347.5h2M850.5 348v2M851.5 350v2M852 352.5h1M853 353.5h1M854 354.5h2M856 355.5h1M857 356.5h1M858 357.5h1M859.5 358v2M860 360.5h1M861 361.5h1M862 362.5h2M864 363.5h2M866 364.5h1M867 365.5h1M868 366.5h1M869.5 367v2M870.5 369v3M871.5 372v3M872.5 375v3M873.5 378v3M874.5 381v4M875.5 385v3M876.5 388v2M877.5 390v2M878.5 392v2M879.5 394v2M880.5 396v3M881.5 399v3M882.5 402v3M883.5 405v2M884.5 407v2M885.5 409v3M886.5 412v3M887.5 415v2M888.5 417v2M889.5 419v2M890.5 421v3M891.5 424v3M892.5 427v3M893.5 430v3M894.5 433v3M895.5 436v4M896.5 440v2M897.5 442v2M898 444.5h1M899.5 445v2M900 447.5h1M901 448.5h1M902.5 449v2M903 451.5h1M904 452.5h1M905 453.5h1M906 454.5h1M907 455.5h2M909 456.5h7M916 455.5h7M923 454.5h5" fill="none" stroke="#ff0000"/><path d="M2.5 484.5V24.5H1165.5V484.5" fill="none" stroke="#000"/><path d="M2 484.5H1166" fill="none" stroke="#000"/><path d="M2.5 570.5V486.5H1165.5V570.5" fill="none" stroke="#000"/><path d="M2 570.5H1166" fill="none" stroke="#000"/><path d="M2.5 659.5V572.5H1165.5V659.5" fill="none" stroke="#000"/><path d="M2 659.5H1166" fill="none" stroke="#000"/><rect x="3" y="171" width="1162" height="2" fill="#ff0000"/><rect x="2" y="169" width="6" height="6" fill="#ff0000"/><rect x="4" y="171" width="2" height="2" fill="#fff"/><rect x="1159" y="169" width="6" height="6" fill="#ff0000"/><rect x="1161" y="171" width="2" height="2" fill="#fff"/><rect x="3" y="248" width="1162" height="2" fill="#ff0000"/><rect x="2" y="246" width="6" height="6" fill="#ff0000"/><rect x="4" y="248" width="2" height="2" fill="#fff"/><rect x="1159" y="246" width="6" height="6" fill="#ff0000"/><rect x="1161" y="248" width="2" height="2" fill="#fff"/><rect x="3" y="324" width="1162" height="2" fill="#ff0000"/><rect x="2" y="322" width="6" height="6" fill="#ff0000"/><rect x="4" y="324" width="2" height="2" fill="#fff"/><rect x="1159" y="322" width="6" height="6" fill="#ff0000"/><rect x="1161" y="324" width="2" height="2" fill="#fff"/><rect x="3" y="398" width="1162" height="2" fill="#00ff00"/><rect x="2" y="396" width="6" height="6" fill="#00ff00"/><rect x="4" y="398" width="2" height="2" fill="#fff"/><rect x="1159" y="396" width="6" height="6" fill="#00ff00"/><rect x="1161" y="398" width="2" height="2" fill="#fff"/><rect x="3" y="475" width="1163" height="2" fill="#0000ff"/><path d="M3.5 185V197M5.5 189V208M15.5 137V156M17.5 146V166M19.5 146V173M25.5 152V161M27.5 157V163M29.5 158V181M31.5 175V199M33.5 189V232M35.5 222V238M37.5 222V236M45.5 192V207M49.5 198V215M51.5 212V225M53.5 220V252M57.5 222V250M63.5 229V242M65.5 237V262M67.5 234V258M75.5 240V256M81.5 198V215M87.5 197V206M97.5 115V136M103.5 114V135M105.5 118V133M107.5 119V145M109.5 140V156M117.5 118V135M119.5 120V140M121.5 135V150M123.5 147V164M127.5 134V196M129.5 172V201M135.5 184V197M137.5 169V211M141.5 174V202M145.5 184V197M153.5 137V151M157.5 134V153M163.5 121V149M175.5 92V101M181.5 80V97M187.5 72V89M189.5 76V100M191.5 90V129M195.5 109V120M203.5 84V101M207.5 82V101M209.5 88V101M211.5 96V118M213.5 100V122M217.5 107V117M231.5 74V83M235.5 47V67M237.5 57V76M241.5 56V67M245.5 54V74M247.5 63V86M249.5 67V100M251.5 93V113M253.5 100V118M257.5 86V115M261.5 89V109M265.5 98V113M267.5 105V118M271.5 104V150M279.5 94V111M287.5 74V80M291.5 70V86M299.5 65V85M303.5 77V87M305.5 83V122M311.5 86V94M313.5 87V94M315.5 91V102M317.5 100V115M319.5 91V148M321.5 136V160M325.5 149V165M327.5 155V172M333.5 108V126M335.5 117V129M337.5 118V129M339.5 120V135M347.5 96V105M349.5 102V112M351.5 106V118M353.5 109V126M357.5 103V117M359.5 111V120M363.5 109V118M369.5 85V113M371.5 109V118M373.5 112V122M375.5 120V127M381.5 105V128M383.5 107V125M389.5 103V134M391.5 127V167M393.5 153V181M397.5 165V179M407.5 153V163M409.5 155V165M413.5 138V160M417.5 150V163M421.5 150V161M425.5 147V161M427.5 152V168M429.5 153V165M431.5 157V249M433.5 240V262M437.5 248V300M439.5 285V306M441.5 293V322M443.5 308V332M447.5 306V330M451.5 309V356M455.5 339V353M457.5 343V357M465.5 312V321M469.5 310V327M471.5 315V332M473.5 317V341M481.5 293V309M489.5 273V295M491.5 287V312M495.5 304V312M501.5 287V311M507.5 291V301M513.5 269V296M515.5 296V307M517.5 293V311M523.5 295V325M527.5 297V311M529.5 303V314M533.5 308V327M535.5 315V343M539.5 319V333M543.5 318V330M545.5 319V338M547.5 329V352M549.5 345V369M555.5 362V374M561.5 340V367M563.5 356V372M565.5 362V372M567.5 365V373M569.5 369V385M577.5 353V364M583.5 340V360M593.5 328V378M595.5 366V385M597.5 369V392M605.5 377V393M607.5 374V402M609.5 386V416M611.5 386V408M613.5 402V415M621.5 350V374M625.5 363V377M627.5 371V379M633.5 344V360M637.5 340V350M639.5 346V360M641.5 341V370M645.5 350V363M651.5 344V360M653.5 352V375M655.5 362V408M657.5 376V396M659.5 389V423M673.5 371V383M679.5 368V400M681.5 384V399M685.5 388V401M691.5 386V408M695.5 387V400M697.5 391V404M699.5 395V404M701.5 402V428M705.5 394V407M707.5 396V410M709.5 398V410M711.5 400V417M715.5 402V436M721.5 414V422M723.5 419V428M733.5 401V412M735.5 401V410M741.5 388V429M747.5 419V430M751.5 416V437M753.5 427V437M757.5 420V430M767.5 391V403M769.5 392V403M771.5 396V403M773.5 401V425M779.5 370V388M783.5 380V392M785.5 379V400M787.5 387V415M805.5 329V340M807.5 337V345M811.5 322V345M813.5 338V363M815.5 349V361M823.5 331V348M825.5 336V347M827.5 342V353M831.5 339V349M835.5 330V355M837.5 344V362M845.5 340V370M849.5 331V377M851.5 369V377M853.5 371V378M857.5 364V381M861.5 362V376M863.5 370V379M865.5 374V384M867.5 381V389M869.5 379V401M871.5 391V427M873.5 420V436M875.5 429V437M879.5 427V436M881.5 427V440M883.5 425V445M887.5 440V452M889.5 447V454M893.5 445V461M895.5 456V470M899.5 459V467M903.5 458V467M905.5 463V474M913.5 443V450M919.5 445V460" stroke="#32cd32" fill="none"/><path d="M7.5 193V208M9.5 174V198M11.5 147V201M13.5 136V160M21.5 159V172M23.5 151V169M39.5 219V241M41.5 206V227M43.5 192V219M47.5 194V211M55.5 226V250M59.5 231V244M61.5 232V243M69.5 240V256M71.5 245V258M73.5 242V252M77.5 209V247M79.5 195V222M83.5 200V218M85.5 196V206M89.5 180V211M91.5 138V207M93.5 124V162M95.5 124V144M99.5 125V137M101.5 116V148M111.5 136V154M113.5 121V158M115.5 111V142M125.5 140V158M131.5 187V202M133.5 182V200M139.5 175V206M143.5 180V204M147.5 176V194M149.5 151V179M151.5 139V173M155.5 139V150M159.5 141V156M161.5 121V151M165.5 130V143M167.5 127V136M169.5 122V142M171.5 121V128M173.5 100V126M177.5 88V100M179.5 84V99M183.5 78V93M185.5 74V91M193.5 109V123M197.5 100V116M199.5 98V114M201.5 90V101M205.5 80V99M215.5 111V129M219.5 100V118M221.5 98V118M223.5 92V101M225.5 88V101M227.5 84V95M229.5 75V89M233.5 50V83M239.5 54V79M243.5 50V67M255.5 100V111M259.5 89V115M263.5 94V111M269.5 98V121M273.5 100V127M275.5 94V106M277.5 94V111M281.5 100V110M283.5 77V109M285.5 74V84M289.5 70V80M293.5 66V88M295.5 67V87M297.5 56V72M301.5 77V87M307.5 94V126M309.5 84V101M323.5 148V161M329.5 160V172M331.5 111V172M341.5 122V140M343.5 104V134M345.5 97V110M355.5 106V122M361.5 112V120M365.5 103V117M367.5 84V111M377.5 117V134M379.5 102V141M385.5 106V126M387.5 104V112M395.5 171V181M399.5 167V178M401.5 155V180M403.5 150V166M405.5 152V159M411.5 153V163M415.5 151V172M419.5 151V161M423.5 150V163M435.5 244V257M445.5 313V327M449.5 307V337M453.5 342V366M459.5 337V366M461.5 325V363M463.5 310V338M467.5 309V322M475.5 318V340M477.5 316V333M479.5 285V321M483.5 303V315M485.5 291V318M487.5 272V299M493.5 300V312M497.5 291V312M499.5 283V304M503.5 299V308M505.5 291V306M509.5 287V299M511.5 268V297M519.5 300V310M521.5 291V308M525.5 297V307M531.5 309V321M537.5 317V340M541.5 320V330M551.5 355V368M553.5 355V367M557.5 356V374M559.5 337V365M571.5 357V396M573.5 363V380M575.5 345V373M579.5 351V363M581.5 340V363M585.5 350V357M587.5 349V354M589.5 349V359M591.5 338V352M599.5 380V397M601.5 382V391M603.5 375V388M615.5 396V414M617.5 374V408M619.5 352V383M623.5 365V376M629.5 359V383M631.5 348V361M635.5 342V357M643.5 345V375M647.5 355V363M649.5 348V358M661.5 414V424M663.5 409V419M665.5 402V421M667.5 380V409M669.5 380V392M671.5 372V385M675.5 368V386M677.5 363V383M683.5 391V405M687.5 390V400M689.5 384V404M693.5 391V405M703.5 383V430M713.5 399V423M717.5 416V436M719.5 412V424M725.5 415V439M727.5 411V433M729.5 399V416M731.5 398V410M737.5 400V418M739.5 378V424M743.5 419V435M745.5 416V427M749.5 411V431M755.5 421V433M759.5 413V424M761.5 401V427M763.5 388V418M765.5 390V397M775.5 381V420M777.5 373V399M781.5 383V393M789.5 393V414M791.5 364V405M793.5 363V371M795.5 356V367M797.5 341V364M799.5 337V349M801.5 332V344M803.5 331V343M809.5 319V345M817.5 346V358M819.5 337V353M821.5 328V343M829.5 342V351M833.5 335V348M839.5 346V358M841.5 346V356M843.5 344V352M847.5 326V362M855.5 372V378M859.5 358V378M877.5 431V446M885.5 437V447M891.5 446V454M897.5 459V471M901.5 460V469M907.5 440V472M909.5 446V457M911.5 437V452M915.5 442V452M917.5 441V452M921.5 450V460M923.5 445V454M925.5 447V456M927.5 449V451" stroke="#ff0000" fill="none"/><path d="M3 508h2V517h-2zM5 507h2V517h-2zM7 506h2V517h-2zM9 505h2V517h-2zM11 504h2V517h-2zM13 503h2V517h-2zM15 502h2V517h-2zM17 502h2V517h-2zM19 503h2V517h-2zM21 503h2V517h-2zM23 503h2V517h-2zM25 504h2V517h-2zM27 505h2V517h-2zM29 507h2V517h-2zM31 511h2V517h-2zM33 516h2v1h-2zM35 516h2V521h-2zM37 516h2V523h-2zM39 516h2V524h-2zM41 516h2V524h-2zM43 516h2V524h-2zM45 516h2V524h-2zM47 516h2V524h-2zM49 516h2V524h-2zM51 516h2V526h-2zM53 516h2V528h-2zM55 516h2V529h-2zM57 516h2V530h-2zM59 516h2V531h-2zM61 516h2V531h-2zM63 516h2V531h-2zM65 516h2V532h-2zM67 516h2V533h-2zM69 516h2V533h-2zM71 516h2V532h-2zM73 516h2V531h-2zM75 516h2V529h-2zM77 516h2V527h-2zM79 516h2V524h-2zM81 516h2V521h-2zM83 516h2V519h-2zM85 516h2V518h-2zM87 515h2V517h-2zM89 512h2V517h-2zM91 507h2V517h-2zM93 501h2V517h-2zM95 496h2V517h-2zM97 495h2V517h-2zM99 493h2V517h-2zM101 492h2V517h-2zM103 491h2V517h-2zM105 491h2V517h-2zM107 491h2V517h-2zM109 492h2V517h-2zM111 493h2V517h-2zM113 494h2V517h-2zM115 495h2V517h-2zM117 496h2V517h-2zM119 497h2V517h-2zM121 499h2V517h-2zM123 502h2V517h-2zM125 505h2V517h-2zM127 509h2V517h-2zM129 512h2V517h-2zM131 514h2V517h-2zM133 516h2V518h-2zM135 516h2V521h-2zM137 516h2V522h-2zM139 516h2V523h-2zM141 516h2V524h-2zM143 516h2V524h-2zM145 516h2V524h-2zM147 516h2V524h-2zM149 516h2V521h-2zM151 516h2V518h-2zM153 515h2V517h-2zM155 512h2V517h-2zM157 511h2V517h-2zM159 510h2V517h-2zM161 508h2V517h-2zM163 508h2V517h-2zM165 507h2V517h-2zM167 507h2V517h-2zM169 506h2V517h-2zM171 503h2V517h-2zM173 500h2V517h-2zM175 498h2V517h-2zM177 497h2V517h-2zM179 496h2V517h-2zM181 495h2V517h-2zM183 494h2V517h-2zM185 494h2V517h-2zM187 494h2V517h-2zM189 496h2V517h-2zM191 499h2V517h-2zM193 501h2V517h-2zM195 503h2V517h-2zM197 503h2V517h-2zM199 503h2V517h-2zM201 503h2V517h-2zM203 503h2V517h-2zM205 503h2V517h-2zM207 504h2V517h-2zM209 505h2V517h-2zM211 506h2V517h-2zM213 508h2V517h-2zM215 510h2V517h-2zM217 511h2V517h-2zM219 511h2V517h-2zM221 512h2V517h-2zM223 511h2V517h-2zM225 511h2V517h-2zM227 510h2V517h-2zM229 509h2V517h-2zM231 508h2V517h-2zM233 507h2V517h-2zM235 506h2V517h-2zM237 506h2V517h-2zM239 505h2V517h-2zM241 505h2V517h-2zM243 506h2V517h-2zM245 506h2V517h-2zM247 507h2V517h-2zM249 510h2V517h-2zM251 513h2V517h-2zM253 515h2V517h-2zM255 516h2v1h-2zM257 516h2V518h-2zM259 516h2V519h-2zM261 516h2V520h-2zM263 516h2V521h-2zM265 516h2V521h-2zM267 516h2V523h-2zM269 516h2V524h-2zM271 516h2V524h-2zM273 516h2V524h-2zM275 516h2V523h-2zM277 516h2V523h-2zM279 516h2V522h-2zM281 516h2V522h-2zM283 516h2V519h-2zM285 516h2v1h-2zM287 514h2V517h-2zM289 513h2V517h-2zM291 512h2V517h-2zM293 512h2V517h-2zM295 511h2V517h-2zM297 510h2V517h-2zM299 511h2V517h-2zM301 512h2V517h-2zM303 513h2V517h-2zM305 513h2V517h-2zM307 514h2V517h-2zM309 515h2V517h-2zM311 515h2V517h-2zM313 516h2v1h-2zM315 516h2V518h-2zM317 516h2V520h-2zM319 516h2V523h-2zM321 516h2V527h-2zM323 516h2V530h-2zM325 516h2V532h-2zM327 516h2V534h-2zM329 516h2V534h-2zM331 516h2V531h-2zM333 516h2V530h-2zM335 516h2V529h-2zM337 516h2V528h-2zM339 516h2V528h-2zM341 516h2V526h-2zM343 516h2V523h-2zM345 516h2V521h-2zM347 516h2V520h-2zM349 516h2V519h-2zM351 516h2V519h-2zM353 516h2V519h-2zM355 516h2V519h-2zM357 516h2V519h-2zM359 516h2V518h-2zM361 516h2V518h-2zM363 516h2v1h-2zM365 515h2V517h-2zM367 514h2V517h-2zM369 515h2V517h-2zM371 515h2V517h-2zM373 516h2v1h-2zM375 516h2v1h-2zM377 516h2v1h-2zM379 516h2v1h-2zM381 516h2v1h-2zM383 516h2v1h-2zM385 516h2V518h-2zM387 516h2V518h-2zM389 516h2V520h-2zM391 516h2V524h-2zM393 516h2V527h-2zM395 516h2V530h-2zM397 516h2V531h-2zM399 516h2V532h-2zM401 516h2V532h-2zM403 516h2V531h-2zM405 516h2V531h-2zM407 516h2V530h-2zM409 516h2V529h-2zM411 516h2V528h-2zM413 516h2V528h-2zM415 516h2V527h-2zM417 516h2V527h-2zM419 516h2V527h-2zM421 516h2V526h-2zM423 516h2V526h-2zM425 516h2V526h-2zM427 516h2V526h-2zM429 516h2V527h-2zM431 516h2V531h-2zM433 516h2V538h-2zM435 516h2V543h-2zM437 516h2V548h-2zM439 516h2V554h-2zM441 516h2V558h-2zM443 516h2V560h-2zM445 516h2V562h-2zM447 516h2V563h-2zM449 516h2V564h-2zM451 516h2V565h-2zM453 516h2V567h-2zM455 516h2V567h-2zM457 516h2V567h-2zM459 516h2V566h-2zM461 516h2V563h-2zM463 516h2V559h-2zM465 516h2V555h-2zM467 516h2V553h-2zM469 516h2V551h-2zM471 516h2V549h-2zM473 516h2V547h-2zM475 516h2V545h-2zM477 516h2V543h-2zM479 516h2V540h-2zM481 516h2V537h-2zM483 516h2V534h-2zM485 516h2V531h-2zM487 516h2V527h-2zM489 516h2V526h-2zM491 516h2V526h-2zM493 516h2V525h-2zM495 516h2V524h-2zM497 516h2V523h-2zM499 516h2V522h-2zM501 516h2V521h-2zM503 516h2V521h-2zM505 516h2V520h-2zM507 516h2V519h-2zM509 516h2V518h-2zM511 516h2V518h-2zM513 516h2V518h-2zM515 516h2v1h-2zM517 516h2v1h-2zM519 516h2v1h-2zM521 516h2V518h-2zM523 516h2V518h-2zM525 516h2V518h-2zM527 516h2V518h-2zM529 516h2V519h-2zM531 516h2V521h-2zM533 516h2V522h-2zM535 516h2V523h-2zM537 516h2V524h-2zM539 516h2V525h-2zM541 516h2V525h-2zM543 516h2V525h-2zM545 516h2V527h-2zM547 516h2V529h-2zM549 516h2V531h-2zM551 516h2V532h-2zM553 516h2V533h-2zM555 516h2V533h-2zM557 516h2V533h-2zM559 516h2V533h-2zM561 516h2V533h-2zM563 516h2V533h-2zM565 516h2V533h-2zM567 516h2V534h-2zM569 516h2V533h-2zM571 516h2V533h-2zM573 516h2V532h-2zM575 516h2V531h-2zM577 516h2V529h-2zM579 516h2V527h-2zM581 516h2V526h-2zM583 516h2V525h-2zM585 516h2V524h-2zM587 516h2V524h-2zM589 516h2V523h-2zM591 516h2V523h-2zM593 516h2V525h-2zM595 516h2V526h-2zM597 516h2V527h-2zM599 516h2V527h-2zM601 516h2V528h-2zM603 516h2V528h-2zM605 516h2V529h-2zM607 516h2V530h-2zM609 516h2V531h-2zM611 516h2V532h-2zM613 516h2V531h-2zM615 516h2V529h-2zM617 516h2V527h-2zM619 516h2V526h-2zM621 516h2V525h-2zM623 516h2V524h-2zM625 516h2V522h-2zM627 516h2V521h-2zM629 516h2V519h-2zM631 516h2v1h-2zM633 514h2V517h-2zM635 513h2V517h-2zM637 512h2V517h-2zM639 512h2V517h-2zM641 512h2V517h-2zM643 512h2V517h-2zM645 513h2V517h-2zM647 513h2V517h-2zM649 513h2V517h-2zM651 513h2V517h-2zM653 514h2V517h-2zM655 516h2V518h-2zM657 516h2V521h-2zM659 516h2V525h-2zM661 516h2V526h-2zM663 516h2V527h-2zM665 516h2V528h-2zM667 516h2V527h-2zM669 516h2V526h-2zM671 516h2V524h-2zM673 516h2V522h-2zM675 516h2V521h-2zM677 516h2V522h-2zM679 516h2V522h-2zM681 516h2V522h-2zM683 516h2V523h-2zM685 516h2V523h-2zM687 516h2V523h-2zM689 516h2V523h-2zM691 516h2V523h-2zM693 516h2V523h-2zM695 516h2V523h-2zM697 516h2V524h-2zM699 516h2V525h-2zM701 516h2V525h-2zM703 516h2V525h-2zM705 516h2V525h-2zM707 516h2V524h-2zM709 516h2V524h-2zM711 516h2V525h-2zM713 516h2V525h-2zM715 516h2V526h-2zM717 516h2V526h-2zM719 516h2V526h-2zM721 516h2V526h-2zM723 516h2V526h-2zM725 516h2V525h-2zM727 516h2V524h-2zM729 516h2V524h-2zM731 516h2V523h-2zM733 516h2V522h-2zM735 516h2V521h-2zM737 516h2V521h-2zM739 516h2V520h-2zM741 516h2V521h-2zM743 516h2V522h-2zM745 516h2V524h-2zM747 516h2V524h-2zM749 516h2V524h-2zM751 516h2V525h-2zM753 516h2V525h-2zM755 516h2V525h-2zM757 516h2V524h-2zM759 516h2V523h-2zM761 516h2V522h-2zM763 516h2V520h-2zM765 516h2v1h-2zM767 515h2V517h-2zM769 515h2V517h-2zM771 515h2V517h-2zM773 514h2V517h-2zM775 514h2V517h-2zM777 512h2V517h-2zM779 511h2V517h-2zM781 510h2V517h-2zM783 510h2V517h-2zM785 510h2V517h-2zM787 511h2V517h-2zM789 512h2V517h-2zM791 510h2V517h-2zM793 508h2V517h-2zM795 505h2V517h-2zM797 503h2V517h-2zM799 501h2V517h-2zM801 499h2V517h-2zM803 499h2V517h-2zM805 499h2V517h-2zM807 498h2V517h-2zM809 498h2V517h-2zM811 499h2V517h-2zM813 501h2V517h-2zM815 503h2V517h-2zM817 503h2V517h-2zM819 503h2V517h-2zM821 503h2V517h-2zM823 504h2V517h-2zM825 505h2V517h-2zM827 506h2V517h-2zM829 507h2V517h-2zM831 507h2V517h-2zM833 508h2V517h-2zM835 509h2V517h-2zM837 510h2V517h-2zM839 510h2V517h-2zM841 511h2V517h-2zM843 511h2V517h-2zM845 512h2V517h-2zM847 512h2V517h-2zM849 514h2V517h-2zM851 516h2v1h-2zM853 516h2V519h-2zM855 516h2V520h-2zM857 516h2V521h-2zM859 516h2V522h-2zM861 516h2V522h-2zM863 516h2V523h-2zM865 516h2V523h-2zM867 516h2V524h-2zM869 516h2V526h-2zM871 516h2V529h-2zM873 516h2V532h-2zM875 516h2V535h-2zM877 516h2V536h-2zM879 516h2V537h-2zM881 516h2V538h-2zM883 516h2V539h-2zM885 516h2V539h-2zM887 516h2V540h-2zM889 516h2V540h-2zM891 516h2V541h-2zM893 516h2V541h-2zM895 516h2V541h-2zM897 516h2V541h-2zM899 516h2V541h-2zM901 516h2V540h-2zM903 516h2V540h-2zM905 516h2V538h-2zM907 516h2V536h-2zM909 516h2V535h-2zM911 516h2V533h-2zM913 516h2V532h-2zM915 516h2V531h-2zM917 516h2V530h-2zM919 516h2V529h-2zM921 516h2V528h-2zM923 516h2V527h-2zM925 516h2V527h-2zM927 516h2V526h-2z" fill="#c0c0c0"/><path d="M3 505.5h1M4 506.5h2M6 507.5h2M8 508.5h4M12 507.5h5M17 506.5h3M20 505.5h3M23 504.5h4M27 503.5h2M29 504.5h2M31 505.5h2M33 506.5h1M34 507.5h1M35 508.5h1M36 509.5h1M37 510.5h1M38 511.5h1M39 512.5h1M40 513.5h1M41 514.5h1M42 515.5h1M43 516.5h1M44 517.5h1M45 518.5h1M46 519.5h1M47 520.5h2M49 521.5h1M50 522.5h2M52 523.5h3M55 524.5h3M58 525.5h3M61 526.5h3M64 527.5h2M66 528.5h2M68 529.5h4M72 530.5h5M77 529.5h4M81 528.5h2M83 527.5h2M85 526.5h1M86 525.5h1M87 524.5h1M88 523.5h1M89 522.5h1M90 521.5h1M91 520.5h1M92 519.5h1M93.5 517v2M94 516.5h1M95 515.5h1M96 514.5h1M97.5 512v2M98.5 510v2M99.5 508v2M100.5 506v2M101 505.5h1M102.5 503v2M103 502.5h1M104.5 500v2M105.5 498v2M106 497.5h1M107 496.5h2M109 495.5h2M111 494.5h10M121 495.5h2M123 496.5h2M125 497.5h2M127 498.5h1M128 499.5h1M129 500.5h1M130 501.5h1M131 502.5h1M132 503.5h1M133 504.5h1M134 505.5h1M135.5 506v2M136 508.5h1M137 509.5h1M138.5 510v2M139 512.5h1M140 513.5h1M141 514.5h1M142 515.5h1M143 516.5h1M144 517.5h1M145 518.5h1M146 519.5h2M148 520.5h3M151 521.5h2M153 520.5h2M155 519.5h2M157 518.5h2M159 517.5h2M161 516.5h1M162 515.5h1M163 514.5h2M165 513.5h1M166 512.5h1M167 511.5h1M168 510.5h2M170 509.5h2M172 508.5h2M174 507.5h2M176 506.5h1M177 505.5h1M178 504.5h2M180 503.5h1M181 502.5h2M183 501.5h1M184 500.5h1M185 499.5h2M187 498.5h1M188 497.5h2M190 496.5h5M195 497.5h2M197 498.5h2M199 499.5h2M201 500.5h2M203 501.5h2M205 502.5h4M209 503.5h3M212 504.5h3M215 505.5h3M218 506.5h2M220 507.5h2M222 508.5h3M225 509.5h2M227 510.5h2M229 511.5h7M236 510.5h2M238 509.5h2M240 508.5h3M243 507.5h2M245 506.5h8M253 507.5h1M254 508.5h1M255 509.5h2M257 510.5h1M258 511.5h1M259 512.5h1M260 513.5h2M262 514.5h1M263 515.5h1M264 516.5h2M266 517.5h2M268 518.5h2M270 519.5h2M272 520.5h5M277 521.5h6M283 520.5h4M287 519.5h2M289 518.5h2M291 517.5h2M293 516.5h2M295 515.5h2M297 514.5h2M299 513.5h5M304 512.5h8M312 513.5h4M316 514.5h2M318 515.5h2M320 516.5h1M321 517.5h1M322 518.5h1M323.5 519v2M324 521.5h1M325 522.5h1M326 523.5h1M327 524.5h2M329 525.5h1M330 526.5h1M331 527.5h2M333 528.5h2M335 529.5h3M338 530.5h6M344.5 528v2M345 527.5h1M346 526.5h1M347 525.5h2M349 524.5h1M350 523.5h2M352 522.5h2M354 521.5h2M356 520.5h2M358 519.5h2M360 518.5h2M362 517.5h5M367 516.5h23M390 517.5h2M392 518.5h2M394 519.5h1M395 520.5h2M397 521.5h1M398 522.5h1M399 523.5h2M401 524.5h2M403 525.5h1M404 526.5h2M406 527.5h2M408 528.5h3M411 529.5h4M415 528.5h4M419 527.5h3M422 526.5h3M425 525.5h3M428 524.5h4M432 525.5h2M434 526.5h2M436 527.5h1M437.5 528v2M438 530.5h1M439.5 531v2M440.5 533v2M441.5 535v2M442.5 537v2M443 539.5h1M444.5 540v2M445.5 542v2M446.5 544v2M447.5 546v2M448 548.5h1M449.5 549v2M450 551.5h1M451.5 552v2M452.5 554v2M453 556.5h1M454 557.5h1M455 558.5h1M456.5 559v2M457 561.5h1M458 562.5h1M459 563.5h2M461 564.5h3M464 563.5h3M467 562.5h1M468 561.5h2M470 560.5h1M471 559.5h1M472 558.5h1M473 557.5h1M474.5 555v2M475 554.5h1M476 553.5h1M477 552.5h1M478 551.5h1M479.5 549v2M480 548.5h1M481 547.5h1M482.5 545v2M483 544.5h1M484 543.5h1M485.5 541v2M486 540.5h1M487.5 538v2M488 537.5h1M489 536.5h1M490.5 534v2M491 533.5h1M492 532.5h1M493 531.5h1M494 530.5h1M495 529.5h1M496 528.5h1M497 527.5h2M499 526.5h1M500 525.5h1M501 524.5h2M503 523.5h2M505 522.5h4M509 521.5h2M511 520.5h2M513 519.5h2M515 518.5h3M518 517.5h7M525 518.5h7M532 519.5h4M536 520.5h3M539 521.5h4M543 522.5h3M546 523.5h2M548 524.5h1M549 525.5h2M551 526.5h2M553 527.5h2M555 528.5h3M558 529.5h3M561 530.5h3M564 531.5h4M568 532.5h6M574 531.5h5M579 530.5h2M581 529.5h2M583 528.5h2M585 527.5h3M588 526.5h2M590 525.5h2M592 524.5h2M594 523.5h5M599 524.5h6M605 525.5h4M609 526.5h3M612 527.5h3M615 528.5h6M621 527.5h5M626 526.5h2M628 525.5h1M629 524.5h2M631 523.5h1M632 522.5h2M634 521.5h1M635 520.5h1M636 519.5h2M638 518.5h1M639 517.5h2M641 516.5h2M643 515.5h2M645 514.5h3M648 513.5h11M659 514.5h1M660 515.5h1M661 516.5h1M662 517.5h1M663 518.5h1M664 519.5h1M665 520.5h2M667 521.5h1M668 522.5h2M670 523.5h2M672 524.5h2M674 525.5h3M677 524.5h2M679 523.5h3M682 522.5h3M685 521.5h17M702 522.5h11M713 523.5h2M715 524.5h5M720 525.5h7M727 524.5h6M733 523.5h4M737 522.5h3M740 521.5h4M744 520.5h6M750 521.5h5M755 522.5h4M759 523.5h3M762 522.5h4M766 521.5h4M770 520.5h2M772 519.5h2M774 518.5h2M776 517.5h2M778 516.5h1M779 515.5h1M780 514.5h2M782 513.5h4M786 512.5h6M792 511.5h4M796 510.5h2M798 509.5h2M800 508.5h2M802 507.5h2M804 506.5h1M805 505.5h2M807 504.5h1M808 503.5h1M809 502.5h2M811 501.5h3M814 500.5h6M820 501.5h4M824 502.5h4M828 503.5h4M832 504.5h3M835 505.5h3M838 506.5h3M841 507.5h3M844 508.5h3M847 509.5h2M849 510.5h2M851 511.5h2M853 512.5h2M855 513.5h1M856 514.5h2M858 515.5h2M860 516.5h2M862 517.5h3M865 518.5h2M867 519.5h2M869 520.5h2M871 521.5h1M872 522.5h1M873 523.5h2M875 524.5h1M876 525.5h1M877 526.5h1M878 527.5h1M879 528.5h1M880 529.5h1M881 530.5h2M883 531.5h1M884 532.5h1M885 533.5h1M886 534.5h2M888 535.5h2M890 536.5h2M892 537.5h2M894 538.5h4M898 539.5h9M907 538.5h2M909 537.5h2M911 536.5h3M914 535.5h2M916 534.5h2M918 533.5h2M920 532.5h2M922 531.5h1M923 530.5h2M925 529.5h2M927 528.5h1" fill="none" stroke="#ff0000"/><path d="M4 599.5H1165M4 633.5H1165" stroke="#c0c0c0" stroke-dasharray="3 3" fill="none"/><path d="M3 614.5h1M4 615.5h1M5 616.5h1M6 615.5h1M7.5 613v2M8.5 610v3M9.5 607v3M10.5 605v2M11.5 603v2M12.5 601v2M13.5 599v2M14.5 600v2M15 602.5h1M16.5 603v2M17.5 605v2M18.5 607v3M19.5 610v2M20 610.5h2M22 609.5h1M23.5 607v2M24 606.5h1M25 607.5h1M26.5 608v2M27 610.5h1M28.5 611v2M29.5 613v2M30.5 615v2M31.5 617v4M32.5 621v4M33.5 625v3M34 628.5h1M35 629.5h1M36 630.5h1M37 629.5h1M38.5 628v2M39.5 626v2M40.5 624v2M41.5 621v3M42.5 618v3M43.5 616v2M44 617.5h1M45 618.5h1M46 619.5h1M47 618.5h2M49.5 619v2M50.5 621v2M51.5 623v2M52.5 625v2M53.5 627v2M54.5 626v2M55.5 624v2M56 625.5h1M57 626.5h1M58 625.5h2M60 624.5h2M62 625.5h2M64 626.5h1M65 627.5h2M67 628.5h2M69 627.5h2M71 626.5h2M73 625.5h2M75.5 622v3M76.5 616v6M77.5 613v3M78.5 611v2M79 610.5h1M80.5 611v2M81 613.5h1M82 612.5h1M83.5 610v2M84 609.5h1M85 610.5h2M87 611.5h1M88.5 609v2M89.5 606v3M90.5 603v3M91.5 600v3M92.5 598v2M93.5 596v2M94.5 594v2M95 594.5h2M97.5 595v2M98.5 597v2M99 598.5h7M106.5 598v2M107.5 600v4M108.5 604v3M109 607.5h1M110 608.5h1M111.5 606v2M112.5 604v2M113.5 602v2M114 602.5h1M115 601.5h1M116.5 601v2M117.5 603v2M118.5 605v2M119.5 607v2M120.5 609v2M121 611.5h1M122.5 612v2M123.5 614v2M124 616.5h1M125.5 614v2M126.5 616v3M127.5 619v3M128.5 622v2M129.5 624v2M130 626.5h2M132.5 624v2M133.5 622v2M134 623.5h1M135 624.5h1M136 625.5h1M137.5 625v2M138.5 621v4M139.5 618v3M140.5 620v2M141.5 622v2M142.5 621v2M143 620.5h4M147.5 618v2M148.5 616v2M149.5 614v2M150.5 612v2M151.5 610v2M152 609.5h1M153 608.5h2M155 609.5h2M157 610.5h3M160.5 608v3M161.5 605v3M162.5 607v2M163.5 609v2M164 610.5h1M165 609.5h2M167 608.5h2M169 607.5h1M170 606.5h2M172.5 603v4M173.5 599v4M174 600.5h2M176.5 601v2M177 603.5h1M178.5 601v2M179 600.5h1M180 601.5h2M182 600.5h1M183.5 599v2M184.5 601v4M185.5 605v2M186 606.5h1M187 605.5h1M188.5 605v2M189.5 607v3M190.5 610v2M191.5 612v3M192.5 615v2M193 616.5h1M194 615.5h2M196 614.5h2M198.5 612v2M199.5 610v2M200 609.5h1M201.5 607v2M202 606.5h6M208 607.5h1M209.5 608v2M210.5 610v3M211.5 613v4M212.5 617v2M213 619.5h2M215 618.5h2M217 619.5h1M218.5 618v2M219.5 616v2M220.5 614v2M221.5 612v2M222.5 610v2M223 611.5h2M225 612.5h2M227 611.5h1M228 610.5h2M230 609.5h2M232.5 608v2M233.5 606v2M234.5 604v2M235 605.5h1M236 606.5h1M237.5 607v2M238.5 609v2M239 609.5h1M240 608.5h2M242 607.5h1M243 606.5h1M244.5 607v2M245 609.5h1M246.5 610v2M247.5 612v2M248.5 614v4M249.5 618v3M250 621.5h1M251.5 622v2M252 624.5h1M253 625.5h1M254.5 623v2M255.5 621v2M256 621.5h2M258 620.5h3M261 621.5h2M263 620.5h1M264.5 621v2M265 623.5h1M266 624.5h2M268.5 624v2M269.5 622v2M270.5 624v2M271.5 625v3M272.5 621v4M273.5 618v3M274 617.5h2M276 616.5h2M278.5 617v2M279 619.5h2M281.5 617v3M282.5 613v4M283.5 610v3M284 610.5h5M289 609.5h1M290.5 608v2M291.5 610v2M292 610.5h1M293 609.5h1M294 608.5h1M295 607.5h2M297.5 607v2M298.5 609v4M299.5 613v2M300 614.5h1M301 615.5h2M303.5 615v3M304.5 618v5M305.5 623v3M306.5 620v4M307.5 618v2M308 617.5h2M310 616.5h1M311 617.5h2M313 618.5h1M314 619.5h1M315 620.5h1M316 621.5h1M317.5 622v3M318.5 625v5M319.5 630v3M320.5 633v2M321.5 635v2M322 635.5h1M323.5 633v2M324 632.5h1M325 633.5h1M326 634.5h1M327 635.5h1M328 636.5h1M329.5 634v2M330.5 627v7M331.5 619v8M332.5 616v3M333 617.5h1M334 618.5h1M335 619.5h3M338 620.5h2M340 621.5h1M341 620.5h1M342.5 618v3M343.5 614v4M344 613.5h1M345 612.5h1M346 611.5h1M347 612.5h2M349 613.5h1M350.5 614v2M351 616.5h2M353 617.5h2M355 616.5h1M356 615.5h1M357 616.5h2M359 617.5h1M360 616.5h2M362 615.5h1M363 616.5h1M364.5 615v2M365.5 613v2M366.5 609v4M367.5 606v3M368.5 608v3M369.5 611v4M370.5 615v2M371 617.5h1M372 618.5h1M373 619.5h2M375 620.5h3M378.5 618v2M379.5 616v2M380 617.5h2M382 618.5h2M384.5 617v2M385.5 615v2M386.5 613v2M387 614.5h1M388.5 614v3M389.5 617v6M390.5 623v4M391.5 627v2M392.5 629v2M393.5 631v2M394 632.5h3M397 631.5h2M399 630.5h1M400.5 628v2M401.5 626v2M402 625.5h1M403 624.5h2M405 623.5h1M406 624.5h2M408 625.5h2M410.5 623v2M411.5 621v2M412 622.5h1M413 623.5h1M414 622.5h1M415 621.5h1M416.5 622v2M417 624.5h1M418.5 622v2M419.5 620v2M420 621.5h1M421 622.5h1M422 621.5h1M423 620.5h1M424 619.5h1M425 620.5h1M426 621.5h1M427 622.5h1M428 623.5h2M430.5 624v7M431.5 631v9M432.5 640v3M433 642.5h3M436.5 643v2M437 645.5h1M438 646.5h2M440 647.5h2M442 648.5h2M444 647.5h1M445.5 645v2M446 644.5h2M448.5 643v2M449.5 641v2M450.5 642v2M451 644.5h1M452 643.5h2M454 642.5h2M456 643.5h3M459.5 641v2M460.5 638v3M461.5 635v3M462.5 632v3M463.5 630v2M464 630.5h1M465 629.5h1M466.5 628v2M467.5 626v2M468 627.5h1M469.5 628v2M470 630.5h1M471 631.5h1M472 632.5h1M473.5 631v2M474.5 629v2M475.5 627v2M476 626.5h1M477 625.5h1M478.5 621v4M479.5 616v5M480.5 617v2M481.5 619v2M482 619.5h2M484.5 617v2M485.5 615v2M486.5 612v3M487.5 610v2M488.5 611v2M489.5 613v2M490.5 615v3M491.5 618v3M492 620.5h1M493 619.5h2M495 620.5h1M496.5 619v2M497.5 616v3M498.5 614v2M499 615.5h2M501.5 616v2M502.5 618v2M503 618.5h1M504 617.5h2M506 616.5h1M507 617.5h2M509.5 615v2M510.5 613v2M511.5 610v3M512.5 608v2M513.5 610v4M514.5 614v3M515 617.5h1M516.5 618v2M517 620.5h1M518 621.5h1M519 620.5h1M520.5 618v2M521 617.5h1M522 616.5h1M523.5 617v2M524.5 619v2M525.5 618v2M526.5 616v2M527 617.5h1M528.5 618v2M529 620.5h1M530 621.5h1M531 620.5h2M533.5 621v2M534 623.5h1M535.5 624v2M536 626.5h1M537.5 624v2M538 623.5h3M541 622.5h1M542 621.5h1M543.5 622v2M544 624.5h1M545 625.5h1M546.5 625v2M547.5 627v2M548.5 629v3M549.5 632v2M550 632.5h1M551.5 630v2M552 629.5h1M553 630.5h1M554 631.5h1M555.5 631v2M556.5 629v2M557.5 627v2M558.5 624v3M559.5 621v3M560.5 622v2M561.5 624v2M562 626.5h1M563 627.5h5M568.5 628v2M569.5 630v2M570.5 629v4M571.5 625v4M572 624.5h1M573 623.5h1M574.5 620v3M575.5 617v3M576.5 619v2M577.5 621v2M578.5 620v2M579.5 618v2M580.5 616v2M581 615.5h1M582.5 616v2M583 618.5h3M586 617.5h4M590.5 615v2M591.5 613v3M592.5 616v5M593.5 621v3M594 624.5h1M595.5 625v2M596 627.5h1M597 628.5h1M598 627.5h2M600 626.5h1M601 625.5h1M602 624.5h2M604 623.5h1M605.5 624v2M606.5 626v2M607.5 628v2M608 629.5h1M609 630.5h3M612 631.5h2M614.5 630v3M615.5 626v4M616.5 622v4M617.5 618v4M618.5 614v4M619.5 611v3M620.5 613v2M621.5 615v2M622 615.5h1M623 614.5h1M624 615.5h1M625 616.5h1M626 617.5h1M627.5 616v2M628.5 614v2M629.5 612v2M630 611.5h1M631 610.5h1M632 611.5h2M634 610.5h1M635 609.5h1M636 608.5h1M637 609.5h1M638.5 610v2M639.5 612v2M640.5 614v2M641.5 616v2M642.5 613v3M643.5 611v2M644.5 612v2M645 614.5h3M648 613.5h2M650.5 612v2M651.5 614v2M652.5 616v2M653.5 618v2M654.5 620v2M655.5 622v2M656 624.5h1M657 625.5h1M658.5 626v3M659.5 629v4M660 631.5h1M661 630.5h1M662 629.5h1M663 628.5h1M664 627.5h1M665.5 625v2M666.5 621v4M667.5 618v3M668 617.5h2M670 616.5h2M672 617.5h2M674 616.5h1M675.5 614v2M676 613.5h1M677 614.5h1M678.5 614v2M679.5 616v3M680.5 619v2M681.5 621v2M682 621.5h2M684 620.5h1M685.5 621v2M686 621.5h1M687 620.5h1M688 619.5h1M689 618.5h1M690 619.5h1M691.5 620v2M692 622.5h1M693.5 620v2M694 619.5h3M697 620.5h1M698.5 621v2M699 623.5h1M700.5 624v2M701.5 626v2M702.5 623v3M703.5 620v3M704.5 618v2M705 618.5h2M707 619.5h1M708 620.5h1M709 621.5h1M710 622.5h1M711 623.5h1M712.5 622v3M713.5 619v3M714.5 621v2M715.5 623v2M716.5 625v2M717 625.5h1M718.5 623v2M719 622.5h1M720 621.5h1M721 622.5h1M722.5 623v2M723 625.5h1M724 626.5h1M725.5 624v2M726.5 622v2M727.5 620v2M728.5 618v2M729.5 616v2M730 616.5h1M731 615.5h2M733 616.5h2M735 617.5h2M737 616.5h1M738.5 614v3M739.5 610v4M740.5 614v6M741.5 620v4M742 622.5h2M744 621.5h2M746 622.5h2M748 623.5h1M749 622.5h2M751 623.5h2M753 624.5h1M754.5 622v2M755.5 620v2M756 620.5h4M760.5 619v2M761.5 615v4M762.5 613v2M763.5 611v2M764.5 609v2M765 609.5h2M767 610.5h2M769 611.5h2M771 612.5h1M772.5 612v2M773.5 614v4M774.5 617v3M775.5 612v5M776.5 608v4M777.5 606v2M778 607.5h1M779 608.5h1M780 609.5h3M783 610.5h2M785.5 611v3M786.5 614v5M787.5 619v3M788.5 616v4M789.5 612v4M790.5 608v4M791.5 606v2M792 605.5h2M794 604.5h2M796 603.5h1M797.5 601v2M798 600.5h2M800 599.5h2M802 598.5h2M804 599.5h1M805 600.5h2M807 601.5h1M808 602.5h1M809 601.5h1M810.5 600v2M811.5 602v4M812.5 606v2M813.5 608v2M814 610.5h1M815.5 611v2M816 613.5h1M817.5 611v2M818 610.5h1M819 609.5h1M820 608.5h1M821 607.5h1M822 606.5h1M823.5 607v2M824.5 609v2M825 611.5h1M826 612.5h2M828 613.5h1M829.5 611v2M830 610.5h3M833 609.5h1M834.5 609v2M835.5 611v2M836.5 613v2M837.5 615v2M838.5 617v2M839 617.5h1M840.5 615v2M841 614.5h1M842 613.5h1M843 614.5h2M845.5 615v2M846.5 616v3M847.5 611v5M848.5 608v4M849.5 612v6M850.5 618v4M851 622.5h6M857.5 623v2M858.5 622v2M859 621.5h5M864.5 622v2M865.5 624v2M866 626.5h2M868.5 627v2M869.5 629v2M870.5 631v4M871.5 635v2M872 637.5h1M873 638.5h8M881 639.5h2M883 640.5h1M884 639.5h1M885 638.5h1M886.5 639v2M887 641.5h3M890.5 639v2M891 638.5h1M892 639.5h1M893 640.5h1M894 641.5h2M896.5 641v2M897.5 638v3M898 639.5h2M900 638.5h2M902 637.5h1M903 638.5h2M905.5 636v4M906.5 630v6M907.5 626v4M908 626.5h1M909 625.5h2M911.5 623v2M912 622.5h2M914 623.5h2M916 622.5h2M918.5 623v2M919.5 625v2M920.5 627v2M921.5 625v2M922 625.5h1M923 624.5h2M925 623.5h2M927 622.5h1" fill="none" stroke="#1e90ff"/><path d="M1166 52.5h2M1166 85.5h2M1166 118.5h2M1166 151.5h2M1166 184.5h2M1166 217.5h2M1166 250.5h2M1166 283.5h2M1166 316.5h2M1166 349.5h2M1166 382.5h2M1166 415.5h2M1166 448.5h2M1166 481.5h2" stroke="#000" fill="none"/><path d="M3.5 660v3M67.5 660v3M131.5 660v3M195.5 660v3M259.5 660v3M323.5 660v3M387.5 660v3M451.5 660v3M515.5 660v3M579.5 660v3M643.5 660v3M707.5 660v3M771.5 660v3M835.5 660v3M899.5 660v3" stroke="#000" fill="none"/><path d="M1166 516.5h2M1166 488.5h1" stroke="#000" fill="none"/></g><g font-family="'Liberation Sans', Arial, sans-serif" font-size="10.2" text-rendering="geometricPrecision"><text transform="translate(1171 56) scale(0.915 1)" >1.22590</text><text transform="translate(1171 89) scale(0.915 1)" >1.22160</text><text transform="translate(1171 122) scale(0.915 1)" >1.21720</text><text transform="translate(1171 155) scale(0.915 1)" >1.21290</text><text transform="translate(1171 188) scale(0.915 1)" >1.20850</text><text transform="translate(1171 221) scale(0.915 1)" >1.20420</text><text transform="translate(1171 254) scale(0.915 1)" >1.19990</text><text transform="translate(1171 287) scale(0.915 1)" >1.19550</text><text transform="translate(1171 320) scale(0.915 1)" >1.19110</text><text transform="translate(1171 353) scale(0.915 1)" >1.18680</text><text transform="translate(1171 386) scale(0.915 1)" >1.18240</text><text transform="translate(1171 419) scale(0.915 1)" >1.17810</text><text transform="translate(1171 452) scale(0.915 1)" >1.17370</text><text transform="translate(1171 485) scale(0.915 1)" >1.16940</text><rect x="1167" y="166" width="36" height="11" fill="#ff0000"/><text transform="translate(1171 175) scale(0.915 1)" fill="#fff" >1.21010</text><rect x="1167" y="243" width="36" height="11" fill="#ff0000"/><text transform="translate(1171 252) scale(0.915 1)" fill="#fff" >1.20004</text><rect x="1167" y="319" width="36" height="11" fill="#ff0000"/><text transform="translate(1171 328) scale(0.915 1)" fill="#fff" >1.18998</text><rect x="1167" y="393" width="36" height="11" fill="#00ff00"/><text transform="translate(1171 402) scale(0.915 1)" fill="#fff" >1.18024</text><rect x="1167" y="444" width="36" height="11" fill="#000000"/><text transform="translate(1171 453) scale(0.915 1)" fill="#fff" >1.17363</text><rect x="1167" y="470" width="36" height="11" fill="#0000ff"/><text transform="translate(1171 479) scale(0.915 1)" fill="#fff" >1.17002</text><text transform="translate(1169 497) scale(0.915 1)" >0.003871</text><text transform="translate(1169 520) scale(0.915 1)" >0.00</text><text transform="translate(1169 567) scale(0.915 1)" >-0.007191</text><text transform="translate(1169 583) scale(0.915 1)" >100</text><text transform="translate(1169 603) scale(0.915 1)" >70</text><text transform="translate(1169 637) scale(0.915 1)" >30</text><text transform="translate(1169 656) scale(0.915 1)" >0</text><text transform="translate(2 672) scale(0.915 1)" >28 Apr 2021</text><text transform="translate(66 672) scale(0.915 1)" >5 May 18:00</text><text transform="translate(130 672) scale(0.915 1)" >13 May 00:00</text><text transform="translate(194 672) scale(0.915 1)" >20 May 10:00</text><text transform="translate(258 672) scale(0.915 1)" >27 May 18:00</text><text transform="translate(322 672) scale(0.915 1)" >4 Jun 00:00</text><text transform="translate(386 672) scale(0.915 1)" >11 Jun 10:00</text><text transform="translate(450 672) scale(0.915 1)" >18 Jun 18:00</text><text transform="translate(514 672) scale(0.915 1)" >26 Jun 00:00</text><text transform="translate(578 672) scale(0.915 1)" >5 Jul 11:00</text><text transform="translate(642 672) scale(0.915 1)" >12 Jul 19:00</text><text transform="translate(706 672) scale(0.915 1)" >20 Jul 00:00</text><text transform="translate(770 672) scale(0.915 1)" >27 Jul 10:00</text><text transform="translate(834 672) scale(0.915 1)" >3 Aug 18:00</text><text transform="translate(898 672) scale(0.915 1)" >11 Aug 00:00</text><text transform="translate(18 36) scale(0.915 1)" xml:space="preserve">EURUSD,H4  1.17360 1.17368 1.17360 1.17363</text><path d="M6 35h7v-1h-1v-1h-1v-1h-1v-1h-1v1h-1v1h-1v1h-1z" fill="#000" shape-rendering="crispEdges"/><text transform="translate(7 499) scale(0.915 1)" >MACD(12,26,9) -0.001110 -0.001571</text><text transform="translate(7 585) scale(0.915 1)" >RSI(14) 42.4246</text></g></svg>
<div class="panel">
<div class="px" style="left:0;width:109px"><b>1.17</b><em>36</em><sup>6</sup></div>
<div class="px" style="left:111px;width:108px"><b style="left:19px">1.17</b><em style="left:46.5px">37</em><sup style="left:87px">7</sup></div>
<div class="btn" style="left:0"><span>SELL</span><u></u></div>
<div class="btn" style="left:167px"><span style="margin-left:-2px">BUY</span><u></u></div>
<div class="vol"><i class="dn"></i><span>3.00</span><i class="up"></i></div>
</div>
<div class="tabs"><div class="l1"></div><div class="bg"></div><div class="l2"></div><div class="bot"></div>
<div class="act"><span>EURUSD,H4</span></div><span class="tab" style="left:106.3px;transform:scaleX(0.951)">AUDUSD,Daily</span><span class="tab" style="left:209.9px;transform:scaleX(0.929)">USDCHF,H4</span><span class="tab" style="left:299.2px;transform:scaleX(0.936)">USDCAD,Daily</span><span class="tab" style="left:401.3px;transform:scaleX(0.957)">USDCNH,Daily</span><span class="tab" style="left:507.3px;transform:scaleX(0.973)">UKOil,H1</span><span class="tab" style="left:581.7px;transform:scaleX(0.943)">DJ30,H1</span><span class="tab" style="left:651.6px;transform:scaleX(0.932)">USDX,H1</span><span class="tab" style="left:726.4px;transform:scaleX(0.935)">XAUUSD,H1</span><span class="tab" style="left:819.6px;transform:scaleX(0.913)">GBPUSD,H1</span><i class="sep" style="left:200px"></i><i class="sep" style="left:288px"></i><i class="sep" style="left:392px"></i><i class="sep" style="left:496px"></i><i class="sep" style="left:572px"></i><i class="sep" style="left:640px"></i><i class="sep" style="left:716px"></i><i class="sep" style="left:808px"></i>
<i class="sep" style="left:900px;top:4px;height:17px;background:#404040"></i>
<i class="arr" style="left:1180px;border-right:4px solid #808080;border-left:0"></i><i class="arr" style="left:1200px;border-left:4px solid #808080;border-right:0"></i>
</div>
</div>
</body>
</html>
